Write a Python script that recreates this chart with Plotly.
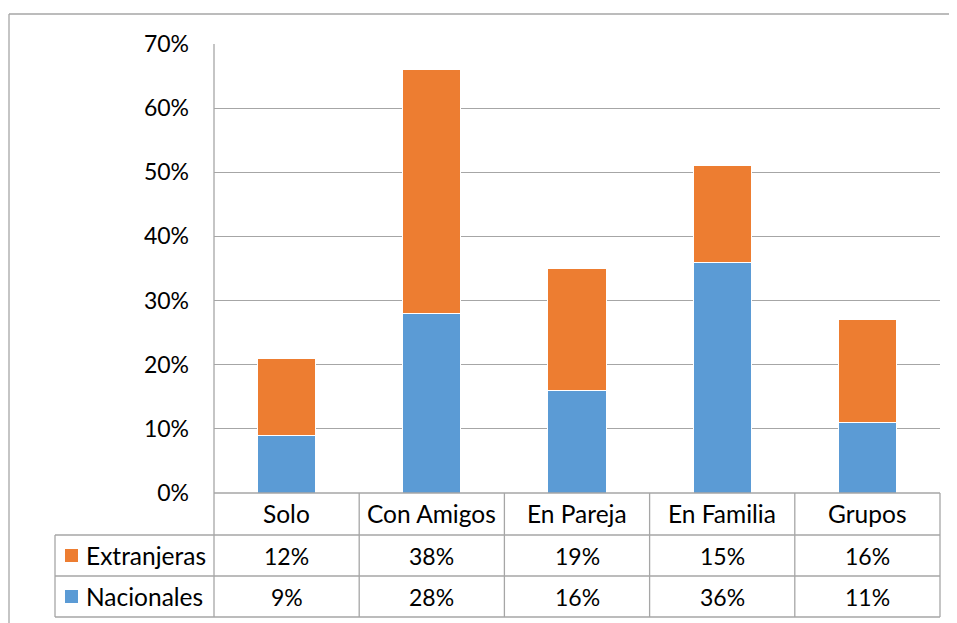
import plotly.graph_objects as go

categories = ["Solo", "Con Amigos", "En Pareja", "En Familia", "Grupos"]
nacionales = [0.09, 0.28, 0.16, 0.36, 0.11]
extranjeras = [0.12, 0.38, 0.19, 0.15, 0.16]
series_names = ["Extranjeras", "Nacionales"]
y_ticks = [0, 0.1, 0.2, 0.3, 0.4, 0.5, 0.6, 0.7]

W, H = 957, 623
OFF = 8  # page body margin
BLUE = "#5B9BD5"
ORANGE = "#ED7D31"
GRID = "#A6A6A6"
FONT = "Lato"
FS = 23      # numbers
FS_TXT = 24.5  # words

def px(x):
    return (x - OFF) / W

def py(y):
    return 1 - (y - OFF) / H

X0, X1 = 214, 940
Y_TOP, Y_ZERO = 44, 493
ROW1, ROW2, ROW3 = 535, 576, 617
TABLE_LEFT = 55

fig = go.Figure()
idx = list(range(len(categories)))
fig.add_trace(go.Bar(x=idx, y=nacionales, name="Nacionales", marker=dict(color=BLUE, line=dict(color="white", width=1)), width=0.4))
fig.add_trace(go.Bar(x=idx, y=extranjeras, name="Extranjeras", marker=dict(color=ORANGE, line=dict(color="white", width=1)), width=0.4))

shapes = []
def line(x0, y0, x1, y1, color=GRID, w=1.3):
    shapes.append(dict(type="line", xref="paper", yref="paper", x0=px(x0), y0=py(y0), x1=px(x1), y1=py(y1), line=dict(color=color, width=w)))

# outer chart border
line(9, 14, 970, 14)
line(9, 14, 9, 640)
# table grid
line(X0, Y_ZERO, X1, Y_ZERO)
for yy in (ROW1, ROW2, ROW3):
    line(TABLE_LEFT, yy, X1, yy)
line(TABLE_LEFT, ROW1, TABLE_LEFT, ROW3)
line(X0, Y_TOP, X0, ROW3)
ncat = len(categories)
for k in range(1, ncat + 1):
    xx = X0 + (X1 - X0) * k / ncat
    line(xx, Y_ZERO, xx, ROW3)

annotations = []
def row_center(a, b):
    return py((a + b) / 2)

for i, c in enumerate(categories):
    annotations.append(dict(x=i, y=row_center(Y_ZERO, ROW1), xref="x", yref="paper", text=c, showarrow=False, font=dict(family=FONT, size=FS_TXT, color="#000"), xanchor="center", yanchor="middle"))
    annotations.append(dict(x=i, y=row_center(ROW1, ROW2), xref="x", yref="paper", text=f"{round(extranjeras[i]*100)}%", showarrow=False, font=dict(family=FONT, size=FS, color="#000"), xanchor="center", yanchor="middle"))
    annotations.append(dict(x=i, y=row_center(ROW2, ROW3), xref="x", yref="paper", text=f"{round(nacionales[i]*100)}%", showarrow=False, font=dict(family=FONT, size=FS, color="#000"), xanchor="center", yanchor="middle"))

for name, color, (a, b) in ((series_names[0], ORANGE, (ROW1, ROW2)), (series_names[1], BLUE, (ROW2, ROW3))):
    cy = (a + b) / 2
    shapes.append(dict(type="rect", xref="paper", yref="paper", x0=px(65), x1=px(78), y0=py(cy - 6.5), y1=py(cy + 6.5), fillcolor=color, line=dict(width=0)))
    annotations.append(dict(x=px(84), y=py(cy), xref="paper", yref="paper", text=name, showarrow=False, font=dict(family=FONT, size=FS_TXT, color="#000"), xanchor="left", yanchor="middle"))

fig.update_layout(
    width=W, height=H, autosize=False,
    margin=dict(l=0, r=0, t=0, b=0, pad=0, autoexpand=False),
    paper_bgcolor="white", plot_bgcolor="white",
    barmode="stack", showlegend=False,
    shapes=shapes, annotations=annotations,
    font=dict(family=FONT, size=FS, color="#000"),
    xaxis=dict(domain=[px(X0), px(X1)], range=[-0.5, ncat - 0.5], showticklabels=False, showgrid=False, zeroline=False, showline=False, automargin=False, fixedrange=True),
    yaxis=dict(domain=[py(Y_ZERO), py(Y_TOP)], range=[0, 0.70001], tickvals=y_ticks, tickformat=".0%", showgrid=True, gridcolor=GRID, gridwidth=1.3, zeroline=False, showline=False, ticks="", automargin=False, ticklabelstandoff=24, tickfont=dict(family=FONT, size=FS, color="#000")),
)

fig.write_html("out.html")
